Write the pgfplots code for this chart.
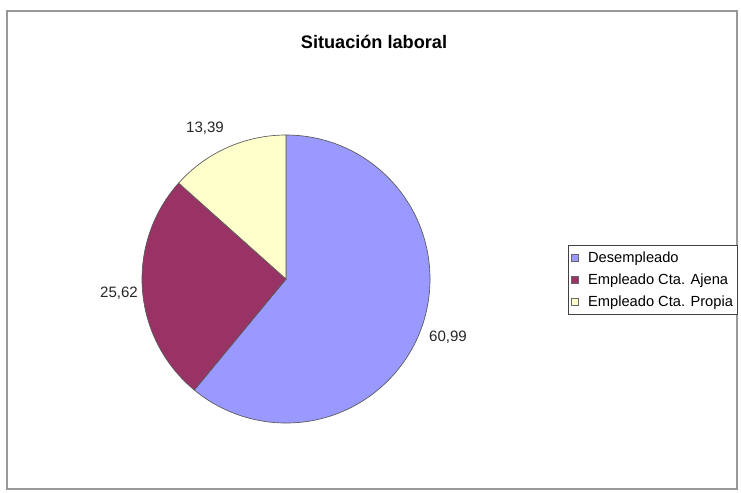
\documentclass[border=0pt]{standalone}
\usepackage{fontspec}
\setmainfont{Liberation Sans}
\usepackage{pgfplots}
\pgfplotsset{compat=1.18}
\definecolor{cDes}{HTML}{9999FF}
\definecolor{cAje}{HTML}{993366}
\definecolor{cPro}{HTML}{FFFFCC}
\begin{document}
\begin{tikzpicture}
% data (percent)
\def\vDes{60.99}
\def\vAje{25.62}
\def\vPro{13.39}
\pgfmathsetmacro{\aA}{90}
\pgfmathsetmacro{\aB}{90-3.6*\vDes}
\pgfmathsetmacro{\aC}{\aB-3.6*\vAje}
\pgfmathsetmacro{\aD}{\aC-3.6*\vPro}
\begin{axis}[
  scale only axis,
  width=555.75pt, height=369pt,
  xmin=0, xmax=741, ymin=0, ymax=492,
  y dir=reverse,
  hide axis,
  clip=false,
  legend style={at={(axis cs:568,245)}, anchor=north west,
    draw=black!75, line width=0.6pt, inner xsep=1.8pt, inner ysep=3.2pt,
    font=\fontsize{11}{12}\selectfont, row sep=4pt,
    nodes={inner sep=1.5pt}},
  legend cell align=left,
  legend image code/.code={\draw[#1, draw=black!60, line width=0.4pt] (0pt,-2.6pt) rectangle (5.2pt,2.6pt); \path (11pt,0pt);},
]
\addlegendimage{fill=cDes}
\addlegendentry{Desempleado}
\addlegendimage{fill=cAje}
\addlegendentry{Empleado Cta. Ajena}
\addlegendimage{fill=cPro}
\addlegendentry{Empleado Cta. Propia}

% full picture area
\path (axis cs:0,0) rectangle (axis cs:741,492);
% outer frame
\draw[black!40, line width=1.2pt] (axis cs:7,11) rectangle (axis cs:737,489);

% pie slices
\fill[cDes, draw=black!65, line width=0.5pt] (axis cs:286,279) -- ++(\aA:108pt) arc[start angle=\aA, end angle=\aB, radius=108pt] -- cycle;
\fill[cAje, draw=black!65, line width=0.5pt] (axis cs:286,279) -- ++(\aB:108pt) arc[start angle=\aB, end angle=\aC, radius=108pt] -- cycle;
\fill[cPro, draw=black!65, line width=0.5pt] (axis cs:286,279) -- ++(\aC:108pt) arc[start angle=\aC, end angle=\aD, radius=108pt] -- cycle;

% labels
\node[font=\fontsize{11.3}{13}\selectfont, text=black!85] at (axis cs:448,337) {60,99};
\node[font=\fontsize{11.3}{13}\selectfont, text=black!85] at (axis cs:119,293) {25,62};
\node[font=\fontsize{11.3}{13}\selectfont, text=black!85] at (axis cs:205,128) {13,39};

% title
\node[font=\bfseries\fontsize{13.6}{15}\selectfont] at (axis cs:374,42) {Situación laboral};
\end{axis}
\end{tikzpicture}
\end{document}
